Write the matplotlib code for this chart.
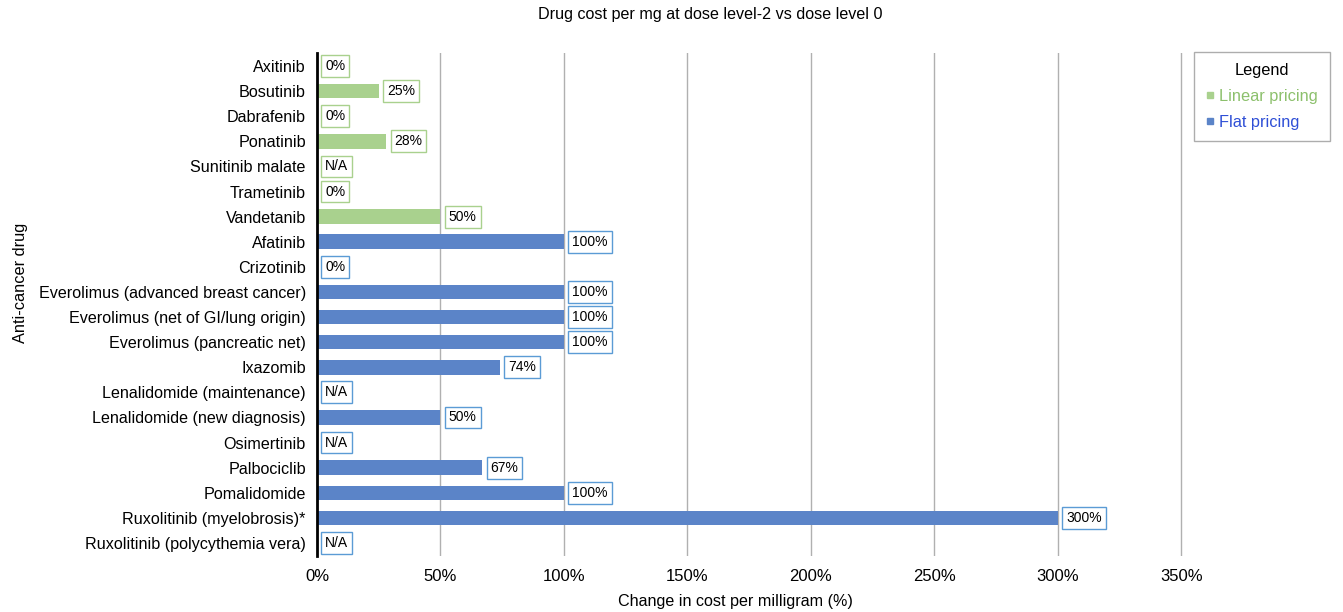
import matplotlib.pyplot as plt
from matplotlib.lines import Line2D

plt.rcParams["font.family"] = ["Liberation Sans", "DejaVu Sans"]

linear_drugs = ["Axitinib", "Bosutinib", "Dabrafenib", "Ponatinib",
                "Sunitinib malate", "Trametinib", "Vandetanib"]
linear_values = [0, 25, 0, 28, None, 0, 50]

flat_drugs = ["Afatinib", "Crizotinib", "Everolimus (advanced breast cancer)",
              "Everolimus (net of GI/lung origin)", "Everolimus (pancreatic net)",
              "Ixazomib", "Lenalidomide (maintenance)", "Lenalidomide (new diagnosis)",
              "Osimertinib", "Palbociclib", "Pomalidomide",
              "Ruxolitinib (myelobrosis)*", "Ruxolitinib (polycythemia vera)"]
flat_values = [100, 0, 100, 100, 100, 74, None, 50, None, 67, 100, 300, None]

x_ticks = [0, 50, 100, 150, 200, 250, 300, 350]

GREEN = "#a9d18e"
BLUE = "#5b84c8"
BLUE_EDGE = "#5b9bd5"

fig = plt.figure(figsize=(13.43, 6.12), dpi=100)
ax = fig.add_axes([0.236, 0.0922, 0.645, 0.8205])

drugs = linear_drugs + flat_drugs
values = linear_values + flat_values
colors = [GREEN] * len(linear_drugs) + [BLUE] * len(flat_drugs)
edges = [GREEN] * len(linear_drugs) + [BLUE_EDGE] * len(flat_drugs)
ypos = list(range(len(drugs)))

ax.barh(ypos, [v if v is not None else 0 for v in values], height=0.58,
        color=colors, zorder=3)

for y, v, ec in zip(ypos, values, edges):
    label = "N/A" if v is None else f"{v}%"
    ax.annotate(label, xy=(v or 0, y), xytext=(6, 0), textcoords="offset points",
                ha="left", va="center", fontsize=10, zorder=4,
                bbox=dict(boxstyle="square,pad=0.28", fc="white", ec=ec, lw=1))

ax.set_yticks(ypos)
ax.set_yticklabels(drugs, fontsize=11.6)
ax.set_ylim(len(drugs) - 0.5, -0.5)
ax.set_xlim(0, 350.8)
ax.set_xticks(x_ticks)
ax.set_xticklabels([f"{t}%" for t in x_ticks], fontsize=12)
ax.tick_params(axis="both", length=0)
ax.tick_params(axis="x", pad=10)
ax.tick_params(axis="y", pad=8)
ax.grid(axis="x", color="#b0b0b0", lw=1, zorder=0)
for side in ["top", "right", "bottom"]:
    ax.spines[side].set_visible(False)
ax.spines["left"].set_linewidth(2)
ax.spines["left"].set_zorder(5)

ax.set_xlabel("Change in cost per milligram (%)", fontsize=11.6)
ax.xaxis.set_label_coords(0.483, -0.077)
ax.set_ylabel("Anti-cancer drug", fontsize=11.8)
ax.yaxis.set_label_coords(-0.334, 0.543)
fig.suptitle("Drug cost per mg at dose level-2 vs dose level 0", fontsize=11.6,
             x=0.529, y=0.988)

handles = [Line2D([], [], marker="s", ls="", color=GREEN, markersize=5),
           Line2D([], [], marker="s", ls="", color=BLUE, markersize=5)]
leg = fig.legend(handles, ["Linear pricing", "Flat pricing"], title="Legend",
                 loc="upper left", bbox_to_anchor=(0.889, 0.915),
                 fontsize=11.8, title_fontsize=11.8, fancybox=False,
                 edgecolor="#999999", handletextpad=0.25, handlelength=0.6,
                 borderpad=0.7, labelspacing=0.65, borderaxespad=0)
leg.get_texts()[0].set_color("#8cc06c")
leg.get_texts()[1].set_color("#2f4fd6")
leg.get_frame().set_linewidth(1)

fig.savefig("out.png", dpi=100)
